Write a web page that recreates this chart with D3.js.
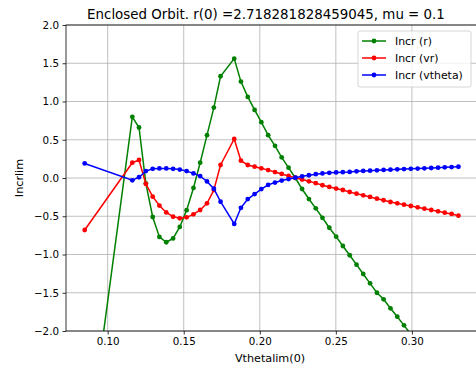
<!DOCTYPE html>
<html lang="en-US">
<head>
    <meta charset="utf-8">
    <script src="https://d3js.org/d3.v7.min.js"></script>
    <style>
        body { margin: 0; background: #fff; }
        text { font-family: "DejaVu Sans", sans-serif; fill: #000; }
        .grid line { stroke: #b0b0b0; stroke-width: 0.8; }
        .axis path { display: none; }
        .axis line { stroke: #000; stroke-width: 0.8; }
        .axis text { font-size: 10.3px; }
    </style>
</head>
<body>
<div id="canvas"></div>
<script>
    // Vthetalim(0) values (some steps are missing in the source run)
    var vtheta0 = [
        0.0849,
        0.1162, 0.1206, 0.1251, 0.1296, 0.1340, 0.1385, 0.1430, 0.1474,
        0.1519, 0.1564, 0.1608, 0.1653, 0.1698, 0.1742,
        0.1832, 0.1876, 0.1921, 0.1966, 0.2010, 0.2055, 0.2100, 0.2144,
        0.2189, 0.2234, 0.2278, 0.2323, 0.2368, 0.2412, 0.2457, 0.2502,
        0.2546, 0.2591, 0.2636, 0.2680, 0.2725, 0.2770, 0.2814, 0.2859,
        0.2904, 0.2948, 0.2993, 0.3038, 0.3082, 0.3127, 0.3172, 0.3216,
        0.3261, 0.3306
    ];
    var incrR = [
        -3.86,
        0.80, 0.66, -0.07, -0.51, -0.77, -0.84, -0.79, -0.64,
        -0.42, -0.13, 0.20, 0.56, 0.92, 1.33,
        1.56, 1.26, 1.06, 0.89, 0.73, 0.56, 0.42, 0.27,
        0.135, 0.0, -0.144, -0.275, -0.397, -0.52, -0.65, -0.767,
        -0.889, -1.01, -1.133, -1.255, -1.377, -1.50, -1.586, -1.703,
        -1.813, -1.926, -2.04, -2.16, -2.28, -2.40, -2.52, -2.64,
        -2.76, -2.88
    ];
    var incrVr = [
        -0.68,
        0.20, 0.235, -0.078, -0.244, -0.36, -0.45, -0.505, -0.527,
        -0.514, -0.475, -0.418, -0.331, -0.157, 0.17,
        0.51, 0.226, 0.17, 0.148, 0.127, 0.103, 0.078, 0.053,
        0.027, 0.003, -0.02, -0.043, -0.067, -0.095, -0.117, -0.138,
        -0.157, -0.183, -0.205, -0.226, -0.248, -0.27, -0.291, -0.314,
        -0.331, -0.349, -0.366, -0.383, -0.401, -0.418, -0.435, -0.453,
        -0.47, -0.493
    ];
    var incrVtheta = [
        0.19,
        -0.03, 0.01, 0.09, 0.12, 0.125, 0.125, 0.12, 0.11,
        0.09, 0.06, 0.025, -0.045, -0.14, -0.31,
        -0.60, -0.39, -0.275, -0.21, -0.145, -0.09, -0.06, -0.034,
        -0.014, 0.004, 0.022, 0.036, 0.05, 0.06, 0.068, 0.073,
        0.076, 0.08, 0.087, 0.092, 0.096, 0.10, 0.105, 0.109,
        0.113, 0.117, 0.12, 0.123, 0.127, 0.131, 0.135, 0.139,
        0.143, 0.147
    ];
    var seriesNames = ["Incr (r)", "Incr (vr)", "Incr (vtheta)"];
    var seriesColors = ["green", "red", "blue"];
    var xTicks = [0.10, 0.15, 0.20, 0.25, 0.30];
    var yTicks = [-2.0, -1.5, -1.0, -0.5, 0.0, 0.5, 1.0, 1.5, 2.0];

    var W = 476, H = 374;
    var margin = { top: 25, right: -1, bottom: 43, left: 66 };

    var svg = d3.select("#canvas")
        .append("svg")
        .attr("width", W)
        .attr("height", H);

    var x = d3.scaleLinear().domain([0.0726, 0.3428]).range([margin.left, W - margin.right]);
    var y = d3.scaleLinear().domain([-2, 2]).range([H - margin.bottom, margin.top]);

    svg.append("clipPath").attr("id", "clip")
        .append("rect")
        .attr("x", x.range()[0]).attr("y", y.range()[1])
        .attr("width", x.range()[1] - x.range()[0])
        .attr("height", y.range()[0] - y.range()[1]);

    // grid
    var grid = svg.append("g").attr("class", "grid");
    grid.selectAll(".gx").data(xTicks).enter().append("line")
        .attr("x1", function(d) { return x(d); }).attr("x2", function(d) { return x(d); })
        .attr("y1", y(-2)).attr("y2", y(2));
    grid.selectAll(".gy").data(yTicks).enter().append("line")
        .attr("x1", x.range()[0]).attr("x2", x.range()[1])
        .attr("y1", function(d) { return y(d); }).attr("y2", function(d) { return y(d); });

    // series
    var all = [incrR, incrVr, incrVtheta];
    var plot = svg.append("g").attr("clip-path", "url(#clip)");
    var line = d3.line()
        .x(function(d) { return x(d[0]); })
        .y(function(d) { return y(d[1]); });

    all.forEach(function(vals, k) {
        var pts = vtheta0.map(function(v, i) { return [v, vals[i]]; });
        plot.append("path")
            .datum(pts)
            .attr("fill", "none")
            .attr("stroke", seriesColors[k])
            .attr("stroke-width", 1.5)
            .attr("d", line);
        plot.selectAll(".dot" + k)
            .data(pts)
            .enter().append("circle")
            .attr("cx", function(d) { return x(d[0]); })
            .attr("cy", function(d) { return y(d[1]); })
            .attr("r", 2.4)
            .attr("fill", seriesColors[k]);
    });

    // axes
    svg.append("g")
        .attr("class", "axis")
        .attr("transform", "translate(0," + y(-2) + ")")
        .call(d3.axisBottom(x).tickValues(xTicks).tickFormat(d3.format(".2f")).tickSize(3.5).tickPadding(3.5));
    svg.append("g")
        .attr("class", "axis")
        .attr("transform", "translate(" + x.range()[0] + ",0)")
        .call(d3.axisLeft(y).tickValues(yTicks).tickFormat(d3.format(".1f")).tickSize(3.5).tickPadding(3.5));

    // spines
    svg.append("rect")
        .attr("x", x.range()[0]).attr("y", y.range()[1])
        .attr("width", x.range()[1] - x.range()[0])
        .attr("height", y.range()[0] - y.range()[1])
        .attr("fill", "none").attr("stroke", "#000").attr("stroke-width", 0.8);

    // labels
    svg.append("text")
        .attr("x", 266).attr("y", 18.5)
        .attr("text-anchor", "middle")
        .style("font-size", "13.4px")
        .text("Enclosed Orbit. r(0) =2.718281828459045, mu = 0.1");
    svg.append("text")
        .attr("x", 270).attr("y", 362)
        .attr("text-anchor", "middle")
        .style("font-size", "11.2px")
        .text("Vthetalim(0)");
    svg.append("text")
        .attr("transform", "translate(23," + y(0) + ") rotate(-90)")
        .attr("text-anchor", "middle")
        .style("font-size", "11.2px")
        .text("Incrlim");

    // legend
    var lg = svg.append("g").attr("transform", "translate(358,31)");
    lg.append("rect")
        .attr("width", 113).attr("height", 56).attr("rx", 2)
        .attr("fill", "#fff").attr("fill-opacity", 0.8)
        .attr("stroke", "#cccccc").attr("stroke-width", 0.8);
    seriesNames.forEach(function(name, k) {
        var ly = 10 + k * 17;
        lg.append("line")
            .attr("x1", 4).attr("x2", 28).attr("y1", ly).attr("y2", ly)
            .attr("stroke", seriesColors[k]).attr("stroke-width", 1.5);
        lg.append("circle").attr("cx", 16).attr("cy", ly).attr("r", 2.4).attr("fill", seriesColors[k]);
        lg.append("text")
            .attr("x", 37).attr("y", ly + 4)
            .style("font-size", "10.9px")
            .text(name);
    });
</script>
</body>
</html>
